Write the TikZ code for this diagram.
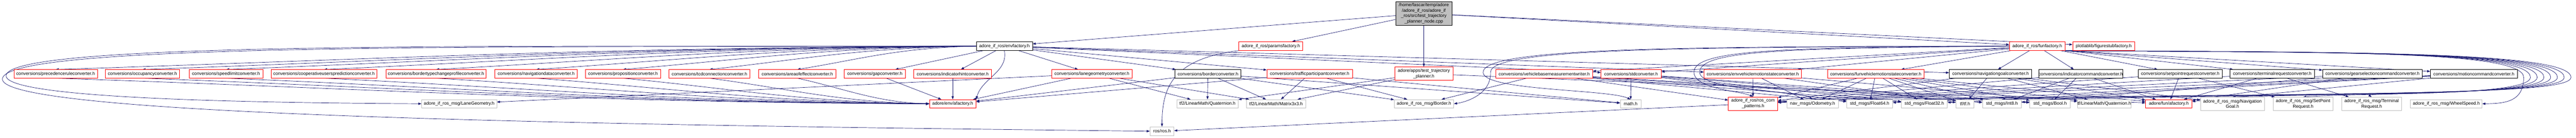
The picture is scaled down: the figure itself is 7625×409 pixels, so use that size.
\documentclass[tikz,border=0pt]{standalone}
\usepackage{fontspec}
\setmainfont{Liberation Sans}
\usetikzlibrary{arrows.meta}
\definecolor{edgec}{HTML}{191970}
\definecolor{nodegray}{HTML}{BFBFBF}
\pgfdeclarelayer{bg}
\pgfsetlayers{bg,main}
\newcommand{\bx}[7]{\node[#1,minimum width={(#5-#4)*0.75pt},minimum height={(#7-#6)*0.75pt}] (#2) at ({(#4+#5)/2},{(#6+#7)/2}) {#3};}
\begin{document}
\begin{tikzpicture}[x=0.75pt,y=-0.75pt,
  nb/.style={rectangle,draw,line width=0.75pt,inner xsep=0pt,inner ysep=1pt,fill=white,
    font=\fontsize{10}{12}\selectfont,align=center},
  rn/.style={nb,draw=red},
  kn/.style={nb,draw=black},
  gn/.style={nb,draw=nodegray},
  tn/.style={nb,draw=black,fill=nodegray},
  e/.style={draw=edgec,line width=0.8pt,-{Triangle[length=7pt,width=5pt]}}]
\useasboundingbox (0,0) rectangle (7625,409);
% top
\bx{tn}{T}{/home/fascar/temp/adore\\/adore\_if\_ros/adore\_if\\\_ros/src/test\_trajectory\\\_planner\_node.cpp}{4131}{4298}{5}{75}
% row 1
\bx{kn}{E}{adore\_if\_ros/envfactory.h}{2890}{3056}{124}{150}
\bx{rn}{P}{adore\_if\_ros/paramsfactory.h}{3667}{3856}{124}{150}
\bx{rn}{F}{adore\_if\_ros/funfactory.h}{5948}{6112}{124}{150}
\bx{rn}{FS}{plotlablib/figurestubfactory.h}{6135}{6319}{124}{150}
% row 2
\bx{rn}{c1}{conversions/precedenceruleconverter.h}{41}{288}{207}{232}
\bx{rn}{c2}{conversions/occupancyconverter.h}{312}{531}{207}{232}
\bx{rn}{c3}{conversions/speedlimitconverter.h}{560}{778}{207}{232}
\bx{rn}{c4}{conversions/cooperativeuserspredictionconverter.h}{802}{1116}{207}{232}
\bx{rn}{c5}{conversions/bordertypechangeprofileconverter.h}{1142}{1439}{207}{232}
\bx{rn}{c6}{conversions/navigationdataconverter.h}{1465}{1709}{207}{232}
\bx{rn}{c7}{conversions/propositionconverter.h}{1733}{1955}{207}{232}
\bx{rn}{c8}{conversions/tcdconnectionconverter.h}{1980}{2220}{207}{232}
\bx{rn}{c9}{conversions/areaofeffectconverter.h}{2246}{2474}{207}{232}
\bx{rn}{c10}{conversions/gapconverter.h}{2499}{2680}{207}{232}
\bx{rn}{c11}{conversions/indicatorhintconverter.h}{2705}{2935}{207}{232}
\bx{rn}{c12}{conversions/lanegeometryconverter.h}{3113}{3351}{207}{232}
\bx{kn}{c13}{conversions/borderconverter.h}{3478}{3673}{207}{232}
\bx{rn}{c14}{conversions/trafficparticipantconverter.h}{3750}{4003}{207}{232}
\bx{rn}{tp}{adore/apps/test\_trajectory\\\_planner.h}{4128}{4301}{199}{239}
\bx{rn}{c16}{conversions/vehiclebasemeasurementwriter.h}{4428}{4714}{207}{232}
\bx{rn}{c17}{conversions/stdconverter.h}{4739}{4917}{207}{232}
\bx{rn}{c18}{conversions/envvehiclemotionstateconverter.h}{5044}{5332}{207}{232}
\bx{rn}{c19}{conversions/funvehiclemotionstateconverter.h}{5409}{5695}{207}{232}
\bx{kn}{c20}{conversions/navigationgoalconverter.h}{5770}{6014}{207}{232}
\bx{kn}{c21}{conversions/indicatorcommandconverter.h}{6038}{6280}{207}{232}
\bx{kn}{c22}{conversions/setpointrequestconverter.h}{6329}{6578}{207}{232}
\bx{kn}{c23}{conversions/terminalrequestconverter.h}{6601}{6851}{207}{232}
\bx{kn}{c24}{conversions/gearselectioncommandconverter.h}{6875}{7170}{207}{232}
\bx{kn}{c25}{conversions/motioncommandconverter.h}{7194}{7451}{207}{232}
% row 3
\bx{gn}{LG}{adore\_if\_ros\_msg/LaneGeometry.h}{1248}{1470}{296}{321}
\bx{rn}{EA}{adore/env/afactory.h}{2751}{2889}{296}{321}
\bx{gn}{TQ2}{tf2/LinearMath/Quaternion.h}{3483}{3665}{296}{321}
\bx{gn}{TM2}{tf2/LinearMath/Matrix3x3.h}{3689}{3865}{296}{321}
\bx{gn}{BO}{adore\_if\_ros\_msg/Border.h}{4127}{4303}{296}{321}
\bx{gn}{MA}{math.h}{4796}{4857}{296}{321}
\bx{rn}{RC}{adore\_if\_ros/ros\_com\\\_patterns.h}{5116}{5262}{288}{328}
\bx{gn}{OD}{nav\_msgs/Odometry.h}{5289}{5441}{296}{321}
\bx{gn}{F64}{std\_msgs/Float64.h}{5466}{5602}{296}{321}
\bx{gn}{F32}{std\_msgs/Float32.h}{5628}{5764}{296}{321}
\bx{gn}{TF}{tf/tf.h}{5790}{5843}{296}{321}
\bx{gn}{I8}{std\_msgs/Int8.h}{5868}{5983}{296}{321}
\bx{gn}{BL}{std\_msgs/Bool.h}{6008}{6128}{296}{321}
\bx{gn}{TQ}{tf/LinearMath/Quaternion.h}{6153}{6304}{296}{321}
\bx{rn}{FA}{adore/fun/afactory.h}{6351}{6488}{296}{321}
\bx{gn}{NG}{adore\_if\_ros\_msg/Navigation\\Goal.h}{6513}{6703}{289}{329}
\bx{gn}{SP}{adore\_if\_ros\_msg/SetPoint\\Request.h}{6728}{6906}{289}{329}
\bx{gn}{TR}{adore\_if\_ros\_msg/Terminal\\Request.h}{6931}{7109}{289}{329}
\bx{gn}{WS}{adore\_if\_ros\_msg/WheelSpeed.h}{7135}{7347}{296}{321}
% row 4
\bx{gn}{RR}{ros/ros.h}{3404}{3475}{377}{403}
\begin{pgfonlayer}{bg}
\foreach \t in {E,P,tp,F,FS} \draw[e] (T) -- (\t);
\foreach \n/\k/\kk in {c1/1227/954,c2/1111/864,c3/999/777,c4/869/676,c5/720/560,c6/586/456,c7/471/366,c8/356/277,c9/239/186}
  \draw[e] (E.west) .. controls +(-\k,6) and +(\kk,-30) .. (\n.north);
\foreach \n in {c10,c11,c12,c13,c14,c17,c18,c20} \draw[e] (E) -- (\n);
\draw[e] (E.south) to[out=-80,in=75] (EA.north east);
\draw[e] (E.west) .. controls (1500,139) and (22,122) .. (18,225) .. controls (15,300) and (900,306) .. (LG.west);
\draw[e] (E.west) .. controls (1500,141) and (10,126) .. (7,235) .. controls (5,345) and (1800,372) .. (RR.west);
\foreach \n/\k/\kk in {c1/905/1034,c2/815/932,c3/729/833,c4/627/717,c5/511/584,c6/407/466,c7/317/363,c8/228/260,c9/137/156}
  \draw[e] (\n.south) .. controls +(\k,30) and +(-\kk,-4) .. (EA.west);
\foreach \n in {c10,c11,c12,c13,c14} \draw[e] (\n) -- (EA);
\foreach \t in {LG,TQ2,TM2} \draw[e] (c12) -- (\t);
\foreach \t in {TQ2,TM2,BO,MA} \draw[e] (c13) -- (\t);
\foreach \t in {TM2,BO,MA} \draw[e] (c14) -- (\t);
\foreach \t in {TQ2,TM2,FA} \draw[e] (tp) -- (\t);
\foreach \t in {BO,RC,F64,F32,I8,BL} \draw[e] (c16) -- (\t);
\foreach \t in {MA,F64,F32,I8,BL} \draw[e] (c17) -- (\t);
\foreach \t in {RC,OD,TF,TQ} \draw[e] (c18) -- (\t);
\foreach \t in {RC,OD,F64,F32,TF,I8,BL,TQ,FA} \draw[e] (c19) -- (\t);
\foreach \t in {NG,RC,FA,TF,TQ} \draw[e] (c20) -- (\t);
\foreach \t in {BL,I8,RC,FA} \draw[e] (c21) -- (\t);
\foreach \t in {SP,RC,FA} \draw[e] (c22) -- (\t);
\foreach \t in {TR,RC,FA} \draw[e] (c23) -- (\t);
\foreach \t in {I8,RC,FA} \draw[e] (c24) -- (\t);
\foreach \t in {F32,F64,RC,FA} \draw[e] (c25) -- (\t);
\foreach \n in {c16,c17,c18,c19,c20,c21,c22} \draw[e] (F) -- (\n);
\foreach \n in {c23,c24,c25} \draw[e] (F.south east) -- (\n);
\draw[e] (F.south east) .. controls (6900,156) and (7470,150) .. (7470,230) .. controls (7470,300) and (7420,308) .. (WS.east);
\foreach \t/\X in {TR/7490,SP/7510,NG/7530,BL/7550,I8/7570,F32/7590,F64/7610}
  \draw[e] (F.south east) .. controls (6900,156) and (\X,150) .. (\X,230) .. controls (\X,285) and (7000,275) .. (\t.north);
\draw[e] (F.west) .. controls (5000,139) and (4390,140) .. (4390,215) .. controls (4390,270) and (4760,265) .. (MA.north);
\draw[e] (F.west) .. controls (5000,141) and (4410,142) .. (4412,215) .. controls (4414,285) and (4330,305) .. (BO.east);
\draw[e] (F.west) .. controls (5300,142) and (5012,145) .. (5014,215) .. controls (5016,265) and (5150,270) .. (RC.north);
\draw[e] (F.west) .. controls (5300,144) and (5030,148) .. (5031,215) .. controls (5032,270) and (5330,270) .. (OD.north);
\draw[e] (P.south west) .. controls (3470,175) and (3440,260) .. (RR.north);
\draw[e] (RC) -- (RR);
\end{pgfonlayer}
\end{tikzpicture}
\end{document}
